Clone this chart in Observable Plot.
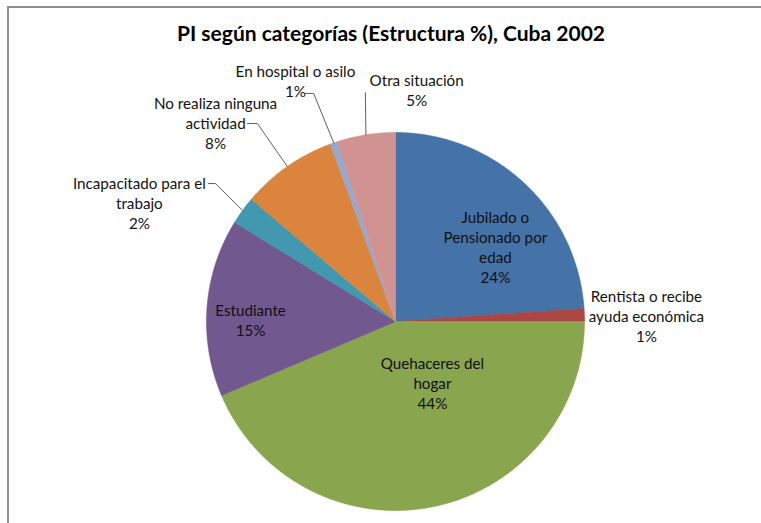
<!DOCTYPE html>
<html><head><meta charset="utf-8">
<script src="https://cdn.jsdelivr.net/npm/d3@7"></script>
<script src="https://cdn.jsdelivr.net/npm/@observablehq/plot@0.6"></script>
<style>
body{margin:0;background:#fff;overflow:hidden}
#wrap{position:relative;width:761px;height:523px;overflow:hidden}
#border{position:absolute;left:7px;top:6px;width:900px;height:700px;border-left:2px solid #8e8e8e;border-top:2px solid #8e8e8e;pointer-events:none}
</style></head><body><div id="wrap"><div id="chart"></div><div id="border"></div></div>
<script>
// ---- data ----
const title = "PI según categorías (Estructura %), Cuba 2002";
const categories = ["Jubilado o Pensionado por edad", "Rentista o recibe ayuda económica", "Quehaceres del hogar", "Estudiante", "Incapacitado para el trabajo", "No realiza ninguna actividad", "En hospital o asilo", "Otra situación"];
const values = [23.9, 1.1, 43.6, 15.2, 2.4, 8.2, 0.6, 5.0];
const pctLabels = ["24%", "1%", "44%", "15%", "2%", "8%", "1%", "5%"];
const labelLines = [["Jubilado o", "Pensionado por", "edad"], ["Rentista o recibe", "ayuda económica"], ["Quehaceres del", "hogar"], ["Estudiante"], ["Incapacitado para el", "trabajo"], ["No realiza ninguna", "actividad"], ["En hospital o asilo"], ["Otra situación"]];

// ---- style / layout ----
const colors = ["#4572A7", "#AA4643", "#89A54E", "#71588F", "#4198AF", "#DB843D", "#93A9CF", "#D19392"];
const W = 761, H = 523, CX = 395, CY = 321, R = 189;
// label placement: [angle clockwise from 12 o'clock (deg), distance in radii]
const labelPlace = [[53.1, 0.661], [88.6, 1.328], [148.8, 0.377], [270.8, 0.767], [294.9, 1.494], [317.9, 1.42], [337.4, 1.378], [5.2, 1.233]];
// leader lines: slice index, end point [angle, radii], horizontal hook (px)
const leaders = [{i: 4, end: [306.4, 1.230], hook: 7}, {i: 5, end: [323.2, 1.308], hook: 10}, {i: 6, end: [338.5, 1.297], hook: 8}, {i: 7, end: [352.5, 1.222], hook: 0}];

const toXY = (deg, r) => [r * Math.sin(deg * Math.PI / 180), r * Math.cos(deg * Math.PI / 180)];
const total = d3.sum(values);
let cum = 0;
const slices = values.map((v, i) => {
  const a0 = cum / total * 360; cum += v; const a1 = cum / total * 360;
  return {i, a0, a1, mid: (a0 + a1) / 2};
});
const polys = slices.map(s => {
  const pts = [[0, 0]];
  const n = Math.max(2, Math.ceil((s.a1 - s.a0) / 0.5));
  for (let k = 0; k <= n; k++) pts.push(toXY(s.a0 + (s.a1 - s.a0) * k / n, 1));
  pts.push([0, 0]);
  return pts.map(([x, y]) => ({x, y}));
});
const labels = categories.map((c, i) => {
  const [x, y] = toXY(labelPlace[i][0], labelPlace[i][1]);
  return {x, y, text: labelLines[i].join("\n") + "\n" + pctLabels[i]};
});
const leaderPaths = leaders.map(l => {
  const [ax, ay] = toXY(slices[l.i].mid, 1);
  const [ex, ey] = toXY(l.end[0], l.end[1]);
  return [{x: ax, y: ay}, {x: ex + l.hook / R, y: ey}, {x: ex, y: ey}];
});

const chart = Plot.plot({
  width: W, height: H,
  margin: 0,
  x: {domain: [-CX / R, (W - CX) / R], axis: null},
  y: {domain: [-(H - CY) / R, CY / R], axis: null},
  style: {background: "#fff"},
  marks: [
    ...polys.map((p, i) => Plot.line(p, {x: "x", y: "y", fill: colors[i], stroke: colors[i], strokeWidth: 0.6})),
    ...leaderPaths.map(p => Plot.line(p, {x: "x", y: "y", stroke: "#5f5f5f", strokeWidth: 1})),
    Plot.text(labels, {x: "x", y: "y", text: "text", fontFamily: "Lato", fontSize: 15.2, lineHeight: 1.31, fill: "#111", lineAnchor: "middle", textAnchor: "middle"}),
    Plot.text([title], {frameAnchor: "top", dx: 10, dy: 34, lineAnchor: "middle", fontFamily: "Lato", fontWeight: "bold", fontSize: 21, fill: "#000"})
  ]
});
document.getElementById("chart").appendChild(chart);
</script>
</body></html>
